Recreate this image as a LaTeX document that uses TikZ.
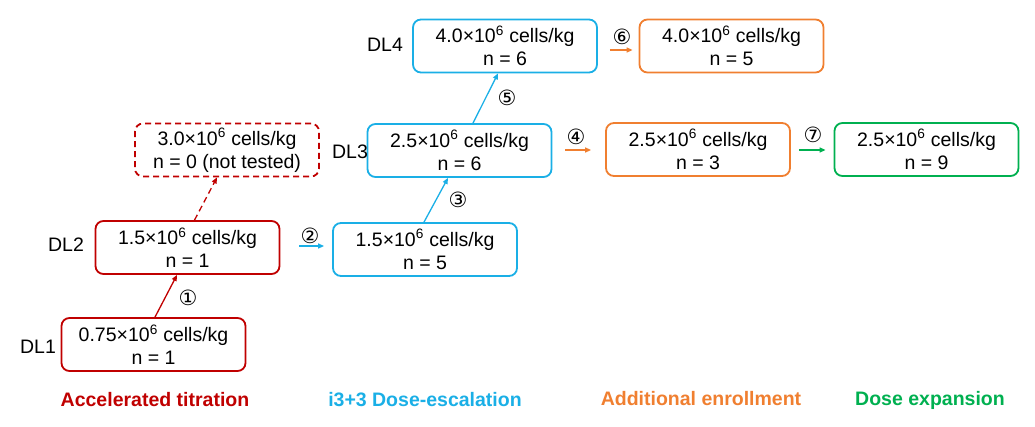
\documentclass[tikz,border=0pt]{standalone}
\usepackage{fontspec}
\setmainfont{Liberation Sans}
\newfontfamily\circfont{DejaVu Sans}
\usetikzlibrary{arrows.meta,calc}
\definecolor{cred}{HTML}{C00000}
\definecolor{cblue}{HTML}{1AAFE6}
\definecolor{corange}{HTML}{F07F30}
\definecolor{cgreen}{HTML}{00B050}
\tikzset{
  dbox/.style={draw=#1, line width=1.8pt, rounded corners=8pt, minimum width=184pt, minimum height=53pt, align=center, inner sep=0pt, font=\fontsize{19.5}{23}\selectfont},
  dl/.style={font=\fontsize{19.5}{23}\selectfont},
  grp/.style={text=#1, font=\fontsize{19.5}{23}\selectfont\bfseries},
  circ/.style={font=\circfont\fontsize{21}{21}\selectfont, inner sep=0pt},
  conn/.style={draw=#1, line width=1.3pt, -{Triangle[length=6pt,width=5pt]}}
}
\newcommand{\sx}{\texttimes10\textsuperscript{6}}
\begin{document}
\begin{tikzpicture}[x=1pt,y=-1pt]
\useasboundingbox (0,0) rectangle (1035,426);
% boxes
\node[dbox=cred] (d1) at (153.5,344.5) {0.75\sx{} cells/kg\\n = 1};
\node[dbox=cred] (d2) at (187.5,247.5) {1.5\sx{} cells/kg\\n = 1};
\node[dbox=cred, dashed, dash pattern=on 6pt off 4pt] (d3x) at (227,150) {3.0\sx{} cells/kg\\n = 0 (not tested)};
\node[dbox=cblue] (b2) at (425,249.5) {1.5\sx{} cells/kg\\n = 5};
\node[dbox=cblue] (b3) at (459.5,150.5) {2.5\sx{} cells/kg\\n = 6};
\node[dbox=cblue] (b4) at (505,46) {4.0\sx{} cells/kg\\n = 6};
\node[dbox=corange] (o4) at (731.5,46) {4.0\sx{} cells/kg\\n = 5};
\node[dbox=corange] (o3) at (698,149.5) {2.5\sx{} cells/kg\\n = 3};
\node[dbox=cgreen] (g3) at (926.5,149.5) {2.5\sx{} cells/kg\\n = 9};
% DL labels
\node[dl] (l1) at (38,347) {DL1};
\node[dl] (l2) at (66,245) {DL2};
\node[dl] (l3) at (350,152) {DL3};
\node[dl] (l4) at (385,45) {DL4};
% connectors
\draw[conn=cred] ($(d1.north)+(1.5,0)$) -- ($(d2.south)+(-10.5,0)$);
\draw[conn=cred, dashed, dash pattern=on 6pt off 4pt] ($(d2.north)+(7,0)$) -- ($(d3x.south)+(-10,0)$);
\draw[conn=cblue] ($(d2.east)+(19,-1.5)$) -- ($(b2.west)+(-8,-3.5)$);
\draw[conn=cblue] ($(b2.north)+(-1,0)$) -- ($(b3.south)+(-11.5,0)$);
\draw[conn=cblue] ($(b3.north)+(13.5,0)$) -- ($(b4.south)+(-7,0)$);
\draw[conn=corange] ($(b3.east)+(13,-0.5)$) -- ($(o3.west)+(-14,0.5)$);
\draw[conn=corange] ($(b4.east)+(12,4)$) -- ($(o4.west)+(-6,4)$);
\draw[conn=cgreen] ($(o3.east)+(8,0.5)$) -- ($(g3.west)+(-8,0.5)$);
% circled numbers
\node[circ] (c1) at (188,298) {①};
\node[circ] (c2) at (310,236) {②};
\node[circ] (c3) at (458,200) {③};
\node[circ] (c4) at (576,137) {④};
\node[circ] (c5) at (507,98) {⑤};
\node[circ] (c6) at (622,37) {⑥};
\node[circ] (c7) at (813,135) {⑦};
% group labels
\node[grp=cred] (t1) at (155,400) {Accelerated titration};
\node[grp=cblue] (t2) at (425,400) {i3+3 Dose-escalation};
\node[grp=corange] (t3) at (701,399) {Additional enrollment};
\node[grp=cgreen] (t4) at (930,400) {Dose expansion};
\end{tikzpicture}
\end{document}
